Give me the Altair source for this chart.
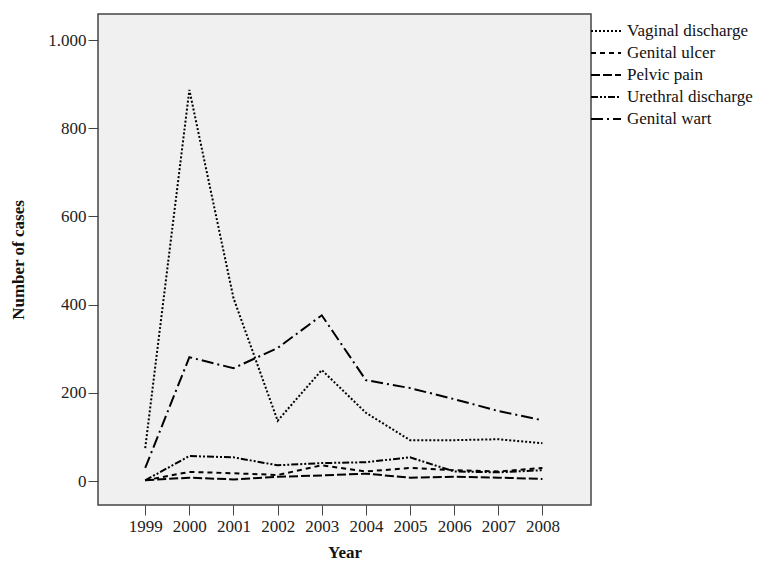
import altair as alt
import pandas as pd

years = [1999, 2000, 2001, 2002, 2003, 2004, 2005, 2006, 2007, 2008]
series_names = ["Vaginal discharge", "Genital ulcer", "Pelvic pain", "Urethral discharge", "Genital wart"]
vaginal = [75, 887, 415, 137, 252, 155, 93, 93, 95, 86]
ulcer = [2, 21, 18, 14, 36, 22, 30, 25, 22, 30]
pelvic = [2, 8, 4, 10, 13, 17, 8, 10, 8, 5]
urethral = [2, 57, 54, 36, 41, 43, 54, 22, 20, 25]
wart = [30, 281, 256, 302, 376, 229, 211, 186, 159, 138]
dashes = [[2, 2], [5, 4], [9, 3], [7, 2, 2, 2, 2, 2], [12, 4, 2, 4]]

rows = []
for name, vals in zip(series_names, [vaginal, ulcer, pelvic, urethral, wart]):
    for y, v in zip(years, vals):
        rows.append({"Year": y, "Cases": v, "Series": name})
df = pd.DataFrame(rows)

FONT = "Liberation Serif"

chart = alt.Chart(df).mark_line(color="black", strokeWidth=2).encode(
    x=alt.X("Year:Q",
            scale=alt.Scale(domain=[1997.93, 2009.1], nice=False, zero=False),
            axis=alt.Axis(values=years, format="d", title="Year", domain=False,
                          grid=False, tickSize=10, tickColor="#444", labelPadding=3,
                          titlePadding=10)),
    y=alt.Y("Cases:Q",
            scale=alt.Scale(domain=[-54, 1059], nice=False, zero=False),
            axis=alt.Axis(values=[0, 200, 400, 600, 800, 1000], title="Number of cases",
                          labelExpr="replace(format(datum.value, ','), ',', '.')",
                          domain=False, grid=False, tickSize=10, tickColor="#444",
                          labelPadding=2, titlePadding=20)),
    strokeDash=alt.StrokeDash("Series:N",
                              scale=alt.Scale(domain=series_names, range=dashes),
                              legend=alt.Legend(title=None, orient="none", legendX=497, legendY=6,
                                                symbolType="M-1.5,0H1.5", symbolSize=400,
                                                symbolStrokeWidth=2, symbolStrokeColor="black",
                                                labelOffset=10, rowPadding=3,
                                                labelFont=FONT, labelFontSize=17,
                                                labelColor="#111", labelLimit=200)),
    detail="Series:N",
    order="Year:Q",
).properties(
    width=493, height=491,
    autosize=alt.AutoSizeParams(type="none"),
    padding={"left": 90, "top": 6, "right": 167, "bottom": 58},
).configure_view(
    fill="#f0f0f0", stroke="#444", strokeWidth=1.5
).configure_axis(
    labelFont=FONT, labelFontSize=17, labelColor="#222",
    titleFont=FONT, titleFontSize=17, titleFontWeight="bold", titleColor="#111"
)

chart.save("out.html", embed_options={"renderer": "svg", "actions": False})
